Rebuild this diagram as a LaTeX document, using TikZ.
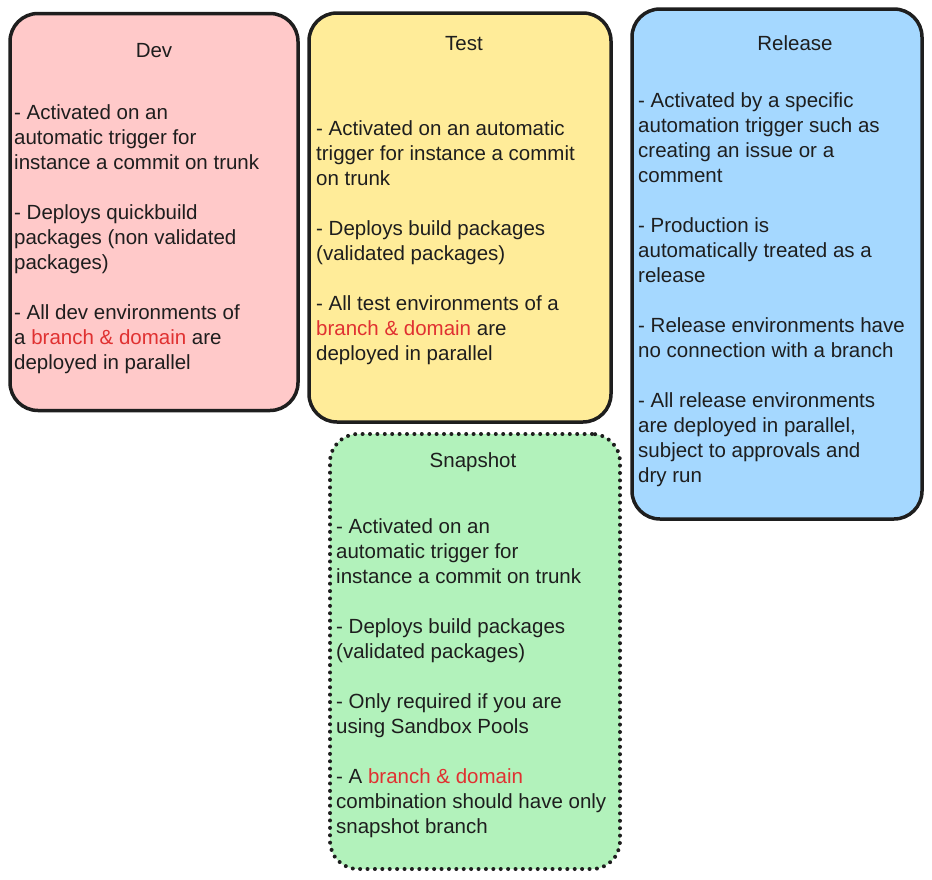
\documentclass[tikz,border=0pt]{standalone}
\usepackage{fontspec}
\setmainfont{Liberation Sans}
\definecolor{devfill}{HTML}{FFC9C9}
\definecolor{testfill}{HTML}{FFEC99}
\definecolor{relfill}{HTML}{A5D8FF}
\definecolor{snapfill}{HTML}{B2F2BB}
\definecolor{ink}{HTML}{1E1E1E}
\definecolor{hl}{HTML}{E03131}
\newcommand{\bdom}{\textcolor{hl}{branch \& domain}}
\newcommand{\blockof}[1]{\begin{tabular}[t]{@{}l@{}}#1\end{tabular}}
\begin{document}
\begin{tikzpicture}[x=1pt,y=-1pt,
  box/.style={draw=ink, line width=3.5pt, rounded corners=28pt, inner sep=0pt},
  dottedbox/.style={box, line width=4pt, line cap=round, dash pattern=on 0pt off 7.4pt},
  txt/.style={inner sep=0pt, text=ink, font=\fontsize{20.5}{25}\selectfont}]
\useasboundingbox (0,0) rectangle (932,879);
\fill[white] (0,0) rectangle (932,879);

\node[box, fill=devfill, minimum width=288pt, minimum height=397pt] (dev) at (154,212) {};
\node[box, fill=testfill, minimum width=302pt, minimum height=409pt] (test) at (460,217.5) {};
\node[box, fill=relfill, minimum width=290pt, minimum height=510pt] (release) at (777,264) {};
\node[dottedbox, fill=snapfill, minimum width=290pt, minimum height=435pt] (snapshot) at (475,651.5) {};

\node[txt, anchor=base] (devtitle) at (154,57) {Dev};
\node[txt, anchor=base west] (devtext) at (14,119) {\blockof{%
- Activated on an\\
automatic trigger for\\
instance a commit on trunk\\
\\
- Deploys quickbuild\\
packages (non validated\\
packages)\\
\\
- All dev environments of\\
a \bdom{} are\\
deployed in parallel}};

\node[txt, anchor=base] (testtitle) at (464,50) {Test};
\node[txt, anchor=base west] (testtext) at (316,135) {\blockof{%
- Activated on an automatic\\
trigger for instance a commit\\
on trunk\\
\\
- Deploys build packages\\
(validated packages)\\
\\
- All test environments of a\\
\bdom{} are\\
deployed in parallel}};

\node[txt, anchor=base] (reltitle) at (795,50) {Release};
\node[txt, anchor=base west] (reltext) at (638,107) {\blockof{%
- Activated by a specific\\
automation trigger such as\\
creating an issue or a\\
comment\\
\\
- Production is\\
automatically treated as a\\
release\\
\\
- Release environments have\\
no connection with a branch\\
\\
- All release environments\\
are deployed in parallel,\\
subject to approvals and\\
dry run}};

\node[txt, anchor=base] (snaptitle) at (473,467) {Snapshot};
\node[txt, anchor=base west] (snaptext) at (336,533) {\blockof{%
- Activated on an\\
automatic trigger for\\
instance a commit on trunk\\
\\
- Deploys build packages\\
(validated packages)\\
\\
- Only required if you are\\
using Sandbox Pools\\
\\
- A \bdom\\
combination should have only\\
snapshot branch}};
\end{tikzpicture}
\end{document}
